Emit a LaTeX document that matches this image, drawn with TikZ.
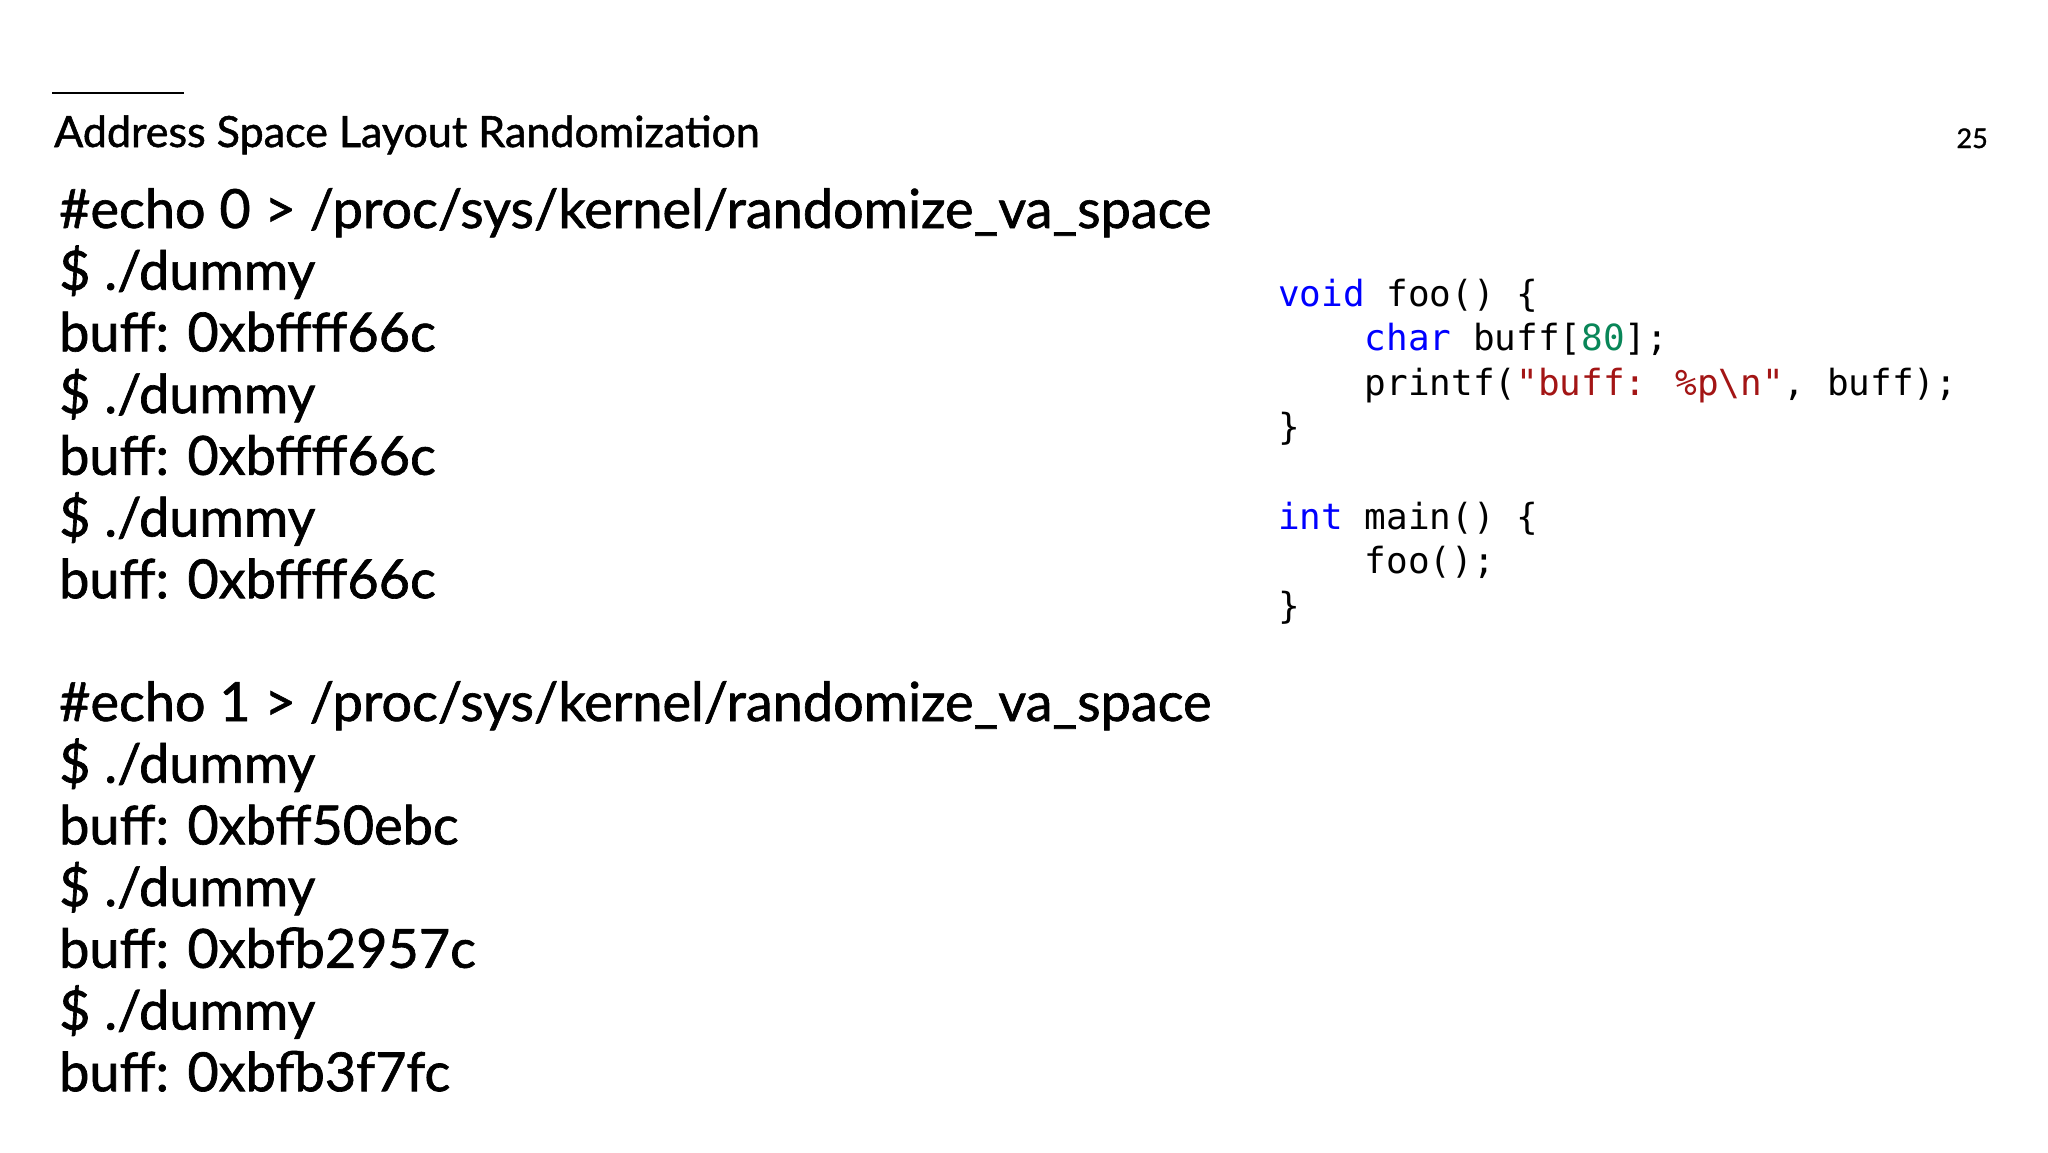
\documentclass[tikz,border=0pt]{standalone}
\usepackage{fontspec}
\setmainfont{Lato}[FakeBold=1.2]
\newfontfamily\codefont{DejaVu Sans Mono}
\definecolor{kw}{RGB}{0,0,255}
\definecolor{num}{RGB}{9,134,88}
\definecolor{str}{RGB}{163,21,21}
\begin{document}
\begin{tikzpicture}[x=1pt,y=-1pt,
  txt/.style={anchor=base west,inner sep=0pt,font=\fontsize{54}{60}\selectfont},
  code/.style={anchor=base west,inner sep=0pt,font=\codefont\fontsize{36}{40}\selectfont}]
\useasboundingbox[fill=white] (0,0) rectangle (2048,1152);
\draw[line width=2pt] (52,93) -- (184,93);
\node[anchor=base west,inner sep=0pt,font=\fontsize{43}{48}\selectfont] (title) at (54,147) {Address Space Layout Randomization};
\node[anchor=base east,inner sep=0pt,font=\fontsize{27}{30}\selectfont] (pg) at (1988,148) {25};
\foreach \t [count=\i from 0] in {{\#echo 0 > /proc/sys/kernel/randomize\_va\_space},{\$ ./dummy},{buff: 0xbffff66c},{\$ ./dummy},{buff: 0xbffff66c},{\$ ./dummy},{buff: 0xbffff66c}}
  \node[txt] (a\i) at (59,228+61.7*\i) {\t};
\foreach \t [count=\i from 0] in {{\#echo 1 > /proc/sys/kernel/randomize\_va\_space},{\$ ./dummy},{buff: 0xbff50ebc},{\$ ./dummy},{buff: 0xbfb2957c},{\$ ./dummy},{buff: 0xbfb3f7fc}}
  \node[txt] (b\i) at (59,721+61.7*\i) {\t};
\node[code] (c0) at (1278,306) {\textcolor{kw}{void} foo() \{};
\node[code] (c1) at (1278,350.6) {\hphantom{xxxx}\textcolor{kw}{char} buff[\textcolor{num}{80}];};
\node[code] (c2) at (1278,395.2) {\hphantom{xxxx}printf(\textcolor{str}{"buff: \%p\textbackslash n"}, buff);};
\node[code] (c3) at (1278,439.8) {\}};
\node[code] (c4) at (1278,529) {\textcolor{kw}{int} main() \{};
\node[code] (c5) at (1278,573.6) {\hphantom{xxxx}foo();};
\node[code] (c6) at (1278,618.2) {\}};
\end{tikzpicture}
\end{document}
